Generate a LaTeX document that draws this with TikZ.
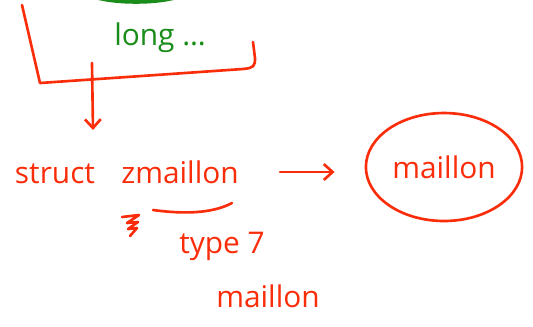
\documentclass[tikz,border=0pt]{standalone}
\usepackage{fontspec}
\setmainfont{Open Sans}
\usetikzlibrary{shapes, arrows.meta, positioning, calc}
\definecolor{penred}{RGB}{250,45,10}
\definecolor{pengreen}{RGB}{25,140,25}

\begin{document}
\begin{tikzpicture}[x=0.02cm,y=-0.02cm,>={Straight Barb[length=5pt,width=9pt]},
    every node/.style={font=\fontsize{17}{20}\selectfont, text=penred, inner sep=2pt},
    ink/.style={draw=penred, line width=1.5pt, line cap=round, line join=round},
    greenink/.style={draw=pengreen, line width=2.6pt, line cap=round}]

    \useasboundingbox (0,0) rectangle (533,326);

    % top block
    \draw[greenink] (96,-3) .. controls (117,3) and (155,3) .. (176,-3);
    \node[text=pengreen] (long) at (160,38) {long \dots};
    \draw[ink] (22,5) -- (40,83) -- (243,69) .. controls (254,68) and (255,66) .. (255,58) -- (253,42);

    \coordinate (drop) at (92,63);
    \coordinate (tip) at (93,130);
    \draw[ink,->] (drop) -- (tip);

    % struct line
    \node (struct) at (55,174) {struct};
    \node (zmaillon) at (180,172) {zmaillon};
    \draw[ink] (153,210) .. controls (190,215) and (215,212) .. (232,203);
    \draw[ink] (122,217) -- (139,215) -- (127,223) -- (138,222) -- (128,229) -- (137,228) -- (130,236);
    \node (type) at (222,246) {type 7};
    \node (maillon2) at (268,296) {maillon};

    \node[draw=penred, line width=1.5pt, ellipse, minimum width=2.9cm, minimum height=2.16cm] (maillon) at (444,167) {\raisebox{-3pt}{maillon}};
    \draw[ink,->,shorten <=0.75cm,shorten >=0.6cm] (zmaillon.east) -- (zmaillon.east -| maillon.west);
  \end{tikzpicture}
\end{document}
